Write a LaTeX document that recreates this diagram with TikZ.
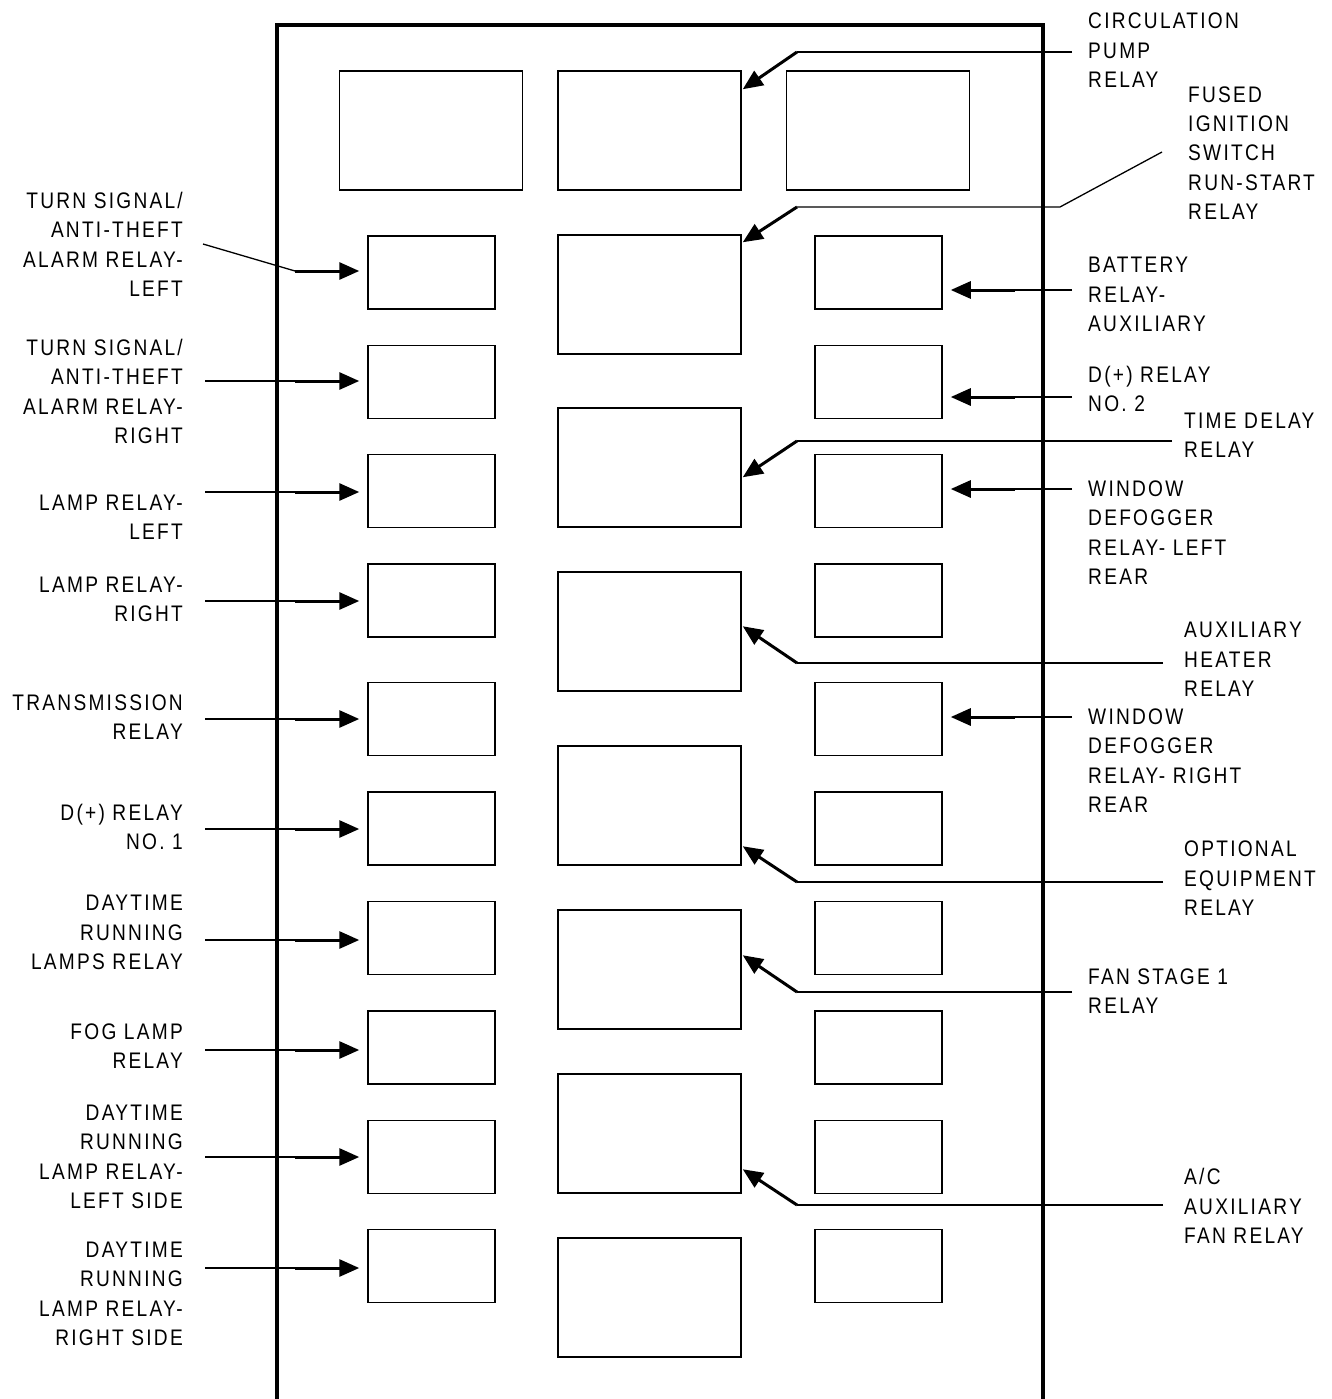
\documentclass[tikz,border=0pt]{standalone}
\usepackage{fontspec}
\newfontfamily\lblfont[FakeStretch=0.85,LetterSpace=10]{Liberation Sans}
\usetikzlibrary{arrows.meta,calc}
\begin{document}
\begin{tikzpicture}[x=1pt,y=-1pt,
  box/.style={draw,line width=1.5pt,inner sep=0pt,minimum width=127pt,minimum height=73pt},
  bigbox/.style={draw,line width=1.5pt,inner sep=0pt,minimum width=183pt,minimum height=119pt},
  lbl/.style={font=\lblfont\fontsize{22.5}{29.3}\selectfont,inner sep=0pt},
  lblL/.style={lbl,align=right,anchor=base east},
  lblR/.style={lbl,align=left,anchor=base west},
  thinl/.style={line width=1.3pt},
  thickarrow/.style={line width=3pt,-{Triangle[length=20pt,width=17pt]},shorten >=8pt},
  diagarrow/.style={line width=3pt,-{Triangle[length=20pt,width=17pt]}}]
\useasboundingbox (0,0) rectangle (1331,1399);
% frame
\draw[line width=3.5pt] (277,1405) -- (277,25) -- (1043,25) -- (1043,1405);
% top row
\node[bigbox] (T1) at (431,130.5) {};
\node[bigbox] (T2) at (649.5,130.5) {};
\node[bigbox] (T3) at (878,130.5) {};
% side columns
\foreach \i/\y in {1/272.5,2/382,3/491,4/600.5,5/719,6/828.5,7/938,8/1047.5,9/1157,10/1266}{
  \node[box] (L\i) at (431.5,\y) {};
  \node[box] (R\i) at (878.5,\y) {};
}
% middle column
\foreach \i/\y in {1/294.5,2/467.5,3/631.5,4/805.5,5/969.5,6/1133.5,7/1297.5}{
  \node[bigbox] (M\i) at (649.5,\y) {};
}
% left labels (anchor = baseline of last line)
\node[lblL] (tl1) at (183,296.5) {TURN SIGNAL/\\ANTI-THEFT\\ALARM RELAY-\\LEFT};
\node[lblL] (tl2) at (183,443.5) {TURN SIGNAL/\\ANTI-THEFT\\ALARM RELAY-\\RIGHT};
\node[lblL] (tl3) at (183,539.5) {LAMP RELAY-\\LEFT};
\node[lblL] (tl4) at (183,621.5) {LAMP RELAY-\\RIGHT};
\node[lblL] (tl5) at (183,739.5) {TRANSMISSION\\RELAY};
\node[lblL] (tl6) at (183,849.5) {D(+) RELAY\\NO. 1};
\node[lblL] (tl7) at (183,969.5) {DAYTIME\\RUNNING\\LAMPS RELAY};
\node[lblL] (tl8) at (183,1068.5) {FOG LAMP\\RELAY};
\node[lblL] (tl9) at (183,1208.5) {DAYTIME\\RUNNING\\LAMP RELAY-\\LEFT SIDE};
\node[lblL] (tl10) at (183,1345.5) {DAYTIME\\RUNNING\\LAMP RELAY-\\RIGHT SIDE};
% right labels
\node[lblR] (tr1) at (1088,87.5) {CIRCULATION\\PUMP\\RELAY};
\node[lblR] (tr2) at (1188,219.5) {FUSED\\IGNITION\\SWITCH\\RUN-START\\RELAY};
\node[lblR] (tr3) at (1088,331.5) {BATTERY\\RELAY-\\AUXILIARY};
\node[lblR] (tr4) at (1088,411.5) {D(+) RELAY\\NO. 2};
\node[lblR] (tr5) at (1184,457.5) {TIME DELAY\\RELAY};
\node[lblR] (tr6) at (1088,584.5) {WINDOW\\DEFOGGER\\RELAY- LEFT\\REAR};
\node[lblR] (tr7) at (1184,696.5) {AUXILIARY\\HEATER\\RELAY};
\node[lblR] (tr8) at (1088,812.5) {WINDOW\\DEFOGGER\\RELAY- RIGHT\\REAR};
\node[lblR] (tr9) at (1184,915.5) {OPTIONAL\\EQUIPMENT\\RELAY};
\node[lblR] (tr10) at (1088,1013.5) {FAN STAGE 1\\RELAY};
\node[lblR] (tr11) at (1184,1243.5) {A/C\\AUXILIARY\\FAN RELAY};
% left arrows
\coordinate (ls1) at (203,244);
\coordinate (lk1) at (295,271);
\draw[thinl] (ls1) -- (lk1);
\draw[thickarrow] (lk1) -- (lk1 -| L1.west);
\foreach \i/\y in {2/381,3/492,4/601,5/719,6/829,7/940,8/1050,9/1157,10/1268}{
  \coordinate (ls\i) at (205,\y);
  \coordinate (lk\i) at (295,\y);
  \draw[thinl] (ls\i) -- (lk\i);
  \draw[thickarrow] (lk\i) -- (lk\i -| L\i.west);
}
% right arrows
\foreach \i/\y in {1/290,2/397,3/489,5/717}{
  \coordinate (rs\i) at (1072,\y);
  \coordinate (rk\i) at (1015,\y);
  \draw[thinl] (rs\i) -- (rk\i);
  \draw[thickarrow] (rk\i) -- (rk\i -| R\i.east);
}
% middle arrows
\coordinate (cs1) at (1072,52);   \coordinate (ck1) at (797,52);
\coordinate (cs2a) at (1162,152); \coordinate (cs2) at (1060,207); \coordinate (ck2) at (797,207);
\coordinate (cs3) at (1172,441);  \coordinate (ck3) at (797,441);
\coordinate (cs4) at (1163,663);  \coordinate (ck4) at (797,663);
\coordinate (cs5) at (1163,882);  \coordinate (ck5) at (797,882);
\coordinate (cs6) at (1072,992);  \coordinate (ck6) at (797,992);
\coordinate (cs7) at (1163,1205); \coordinate (ck7) at (797,1205);
\draw[thinl] (cs1) -- (ck1);
\draw[thinl] (cs2a) -- (cs2) -- (ck2);
\draw[thinl] (cs3) -- (ck3);
\draw[thinl] (cs4) -- (ck4);
\draw[thinl] (cs5) -- (ck5);
\draw[thinl] (cs6) -- (ck6);
\draw[thinl] (cs7) -- (ck7);
\draw[diagarrow] (ck1) -- ($(T2.north east)+(1,19)$);
\draw[diagarrow] (ck2) -- ($(M1.north east)+(1,8)$);
\draw[diagarrow] (ck3) -- ($(M2.north east)+(1,70)$);
\draw[diagarrow] (ck4) -- ($(M3.north east)+(1,55)$);
\draw[diagarrow] (ck5) -- ($(M4.north east)+(1,101)$);
\draw[diagarrow] (ck6) -- ($(M5.north east)+(1,46)$);
\draw[diagarrow] (ck7) -- ($(M6.north east)+(1,96)$);
\end{tikzpicture}
\end{document}
